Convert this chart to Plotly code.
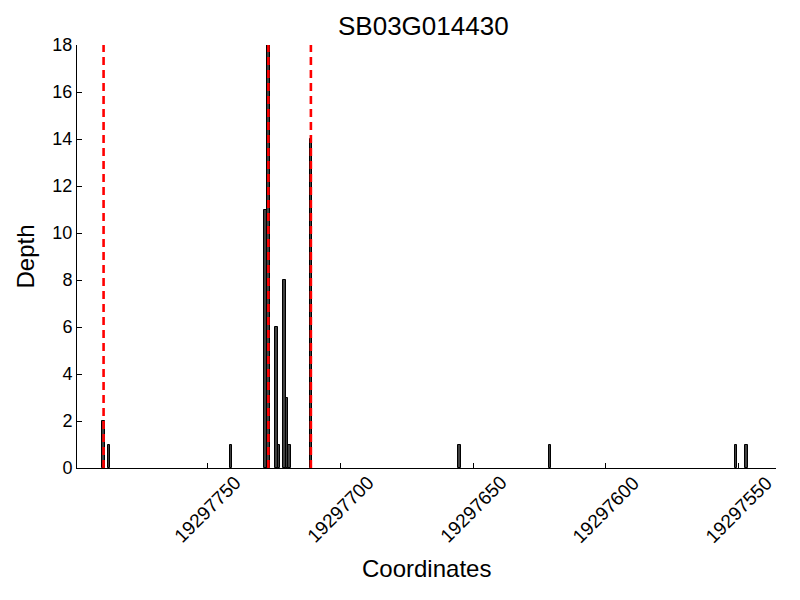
import plotly.graph_objects as go

title = "SB03G014430"
coords = [19297789, 19297787, 19297741, 19297728, 19297727, 19297724, 19297723,
          19297721, 19297720, 19297719, 19297711, 19297655, 19297621, 19297551, 19297547]
depth = [2, 1, 1, 11, 18, 6, 1, 8, 3, 1, 14, 1, 1, 1, 1]
red_lines = [19297789, 19297727, 19297711]
x_ticks = [19297750, 19297700, 19297650, 19297600, 19297550]
y_ticks = [0, 2, 4, 6, 8, 10, 12, 14, 16, 18]
x_range = [19297799, 19297536]
y_range = [0, 18]

font = "Liberation Sans, Arial, sans-serif"

fig = go.Figure()
fig.add_trace(go.Bar(x=coords, y=depth, width=1,
                     marker=dict(color="#404040", line=dict(color="black", width=1)),
                     showlegend=False, hoverinfo="x+y"))
for rl in red_lines:
    fig.add_trace(go.Scatter(x=[rl, rl], y=y_range, mode="lines",
                             line=dict(color="red", width=2.6, dash="8px,5px"),
                             showlegend=False, hoverinfo="skip"))

annotations = []
for t in x_ticks:
    annotations.append(dict(x=t, xref="x", y=0, yref="paper", yshift=-41,
                            text=str(t), textangle=-45, showarrow=False,
                            xanchor="center", yanchor="middle",
                            font=dict(family=font, size=19, color="black")))
annotations.append(dict(x=0.5, xref="paper", y=0, yref="paper", yshift=-100,
                        text="Coordinates", showarrow=False, xanchor="center", yanchor="middle",
                        font=dict(family=font, size=24, color="black")))
annotations.append(dict(x=0, xref="paper", y=0.5, yref="paper", xshift=-52,
                        text="Depth", textangle=-90, showarrow=False, xanchor="center", yanchor="middle",
                        font=dict(family=font, size=24, color="black")))
annotations.append(dict(x=0.495, xref="paper", y=1, yref="paper", yshift=19,
                        text=title, showarrow=False, xanchor="center", yanchor="middle",
                        font=dict(family=font, size=26, color="black")))

fig.update_layout(
    width=800, height=600,
    margin=dict(l=69, r=32, t=37, b=140),
    plot_bgcolor="white", paper_bgcolor="white",
    bargap=0,
    annotations=annotations,
    xaxis=dict(range=x_range, tickvals=x_ticks, showticklabels=False,
               ticks="inside", ticklen=5, tickcolor="black",
               showline=True, linecolor="black", linewidth=1, mirror=False,
               showgrid=False, zeroline=False, automargin=False),
    yaxis=dict(range=y_range, tickvals=y_ticks, ticks="inside", ticklen=5, tickcolor="black",
               showline=True, linecolor="black", linewidth=1, mirror=False,
               showgrid=False, zeroline=False, automargin=False,
               tickfont=dict(family=font, size=18, color="black")),
)
fig.write_html("out.html")
